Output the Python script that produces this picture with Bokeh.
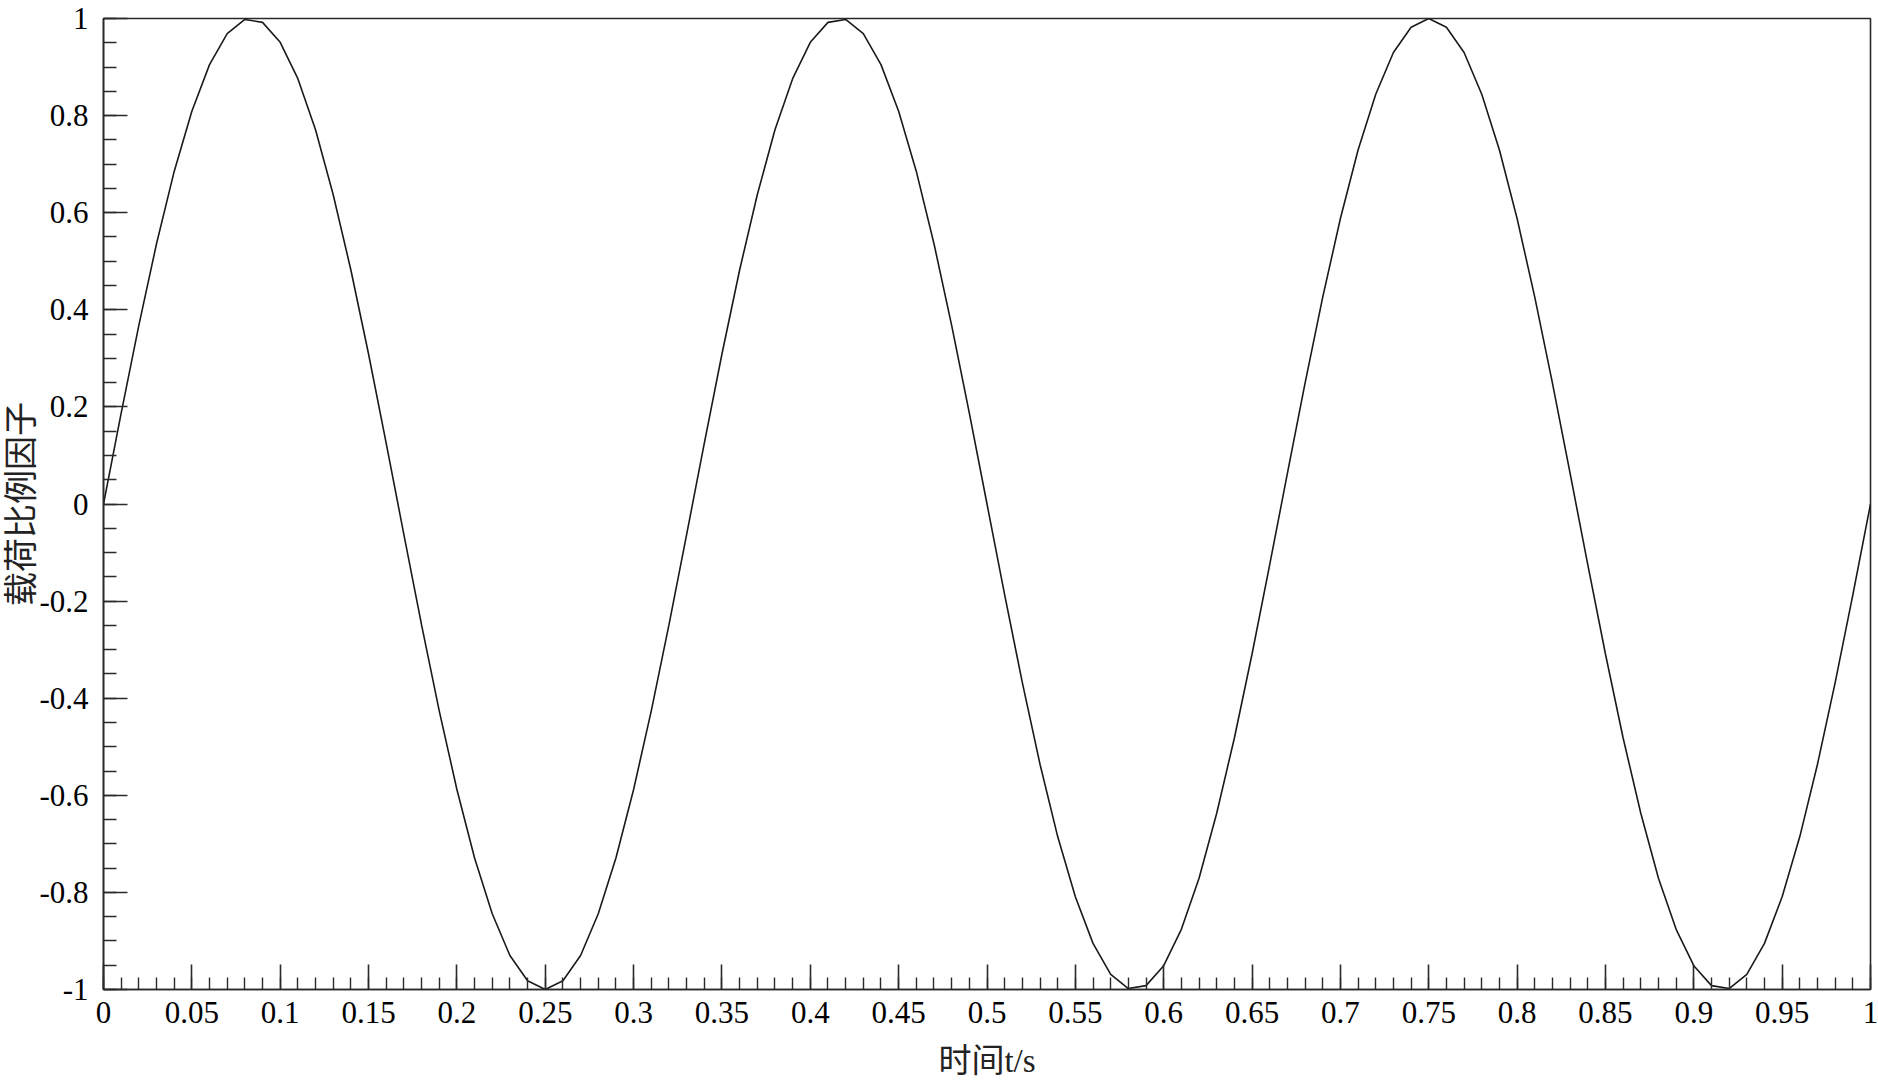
from bokeh.plotting import figure
from bokeh.models import Range1d, SingleIntervalTicker, CustomJSTickFormatter, ColumnDataSource
from bokeh.embed import file_html
from bokeh.resources import INLINE

# sample times (s)
t_values = [0.00, 0.01, 0.02, 0.03, 0.04, 0.05, 0.06, 0.07, 0.08, 0.09,
            0.10, 0.11, 0.12, 0.13, 0.14, 0.15, 0.16, 0.17, 0.18, 0.19,
            0.20, 0.21, 0.22, 0.23, 0.24, 0.25, 0.26, 0.27, 0.28, 0.29,
            0.30, 0.31, 0.32, 0.33, 0.34, 0.35, 0.36, 0.37, 0.38, 0.39,
            0.40, 0.41, 0.42, 0.43, 0.44, 0.45, 0.46, 0.47, 0.48, 0.49,
            0.50, 0.51, 0.52, 0.53, 0.54, 0.55, 0.56, 0.57, 0.58, 0.59,
            0.60, 0.61, 0.62, 0.63, 0.64, 0.65, 0.66, 0.67, 0.68, 0.69,
            0.70, 0.71, 0.72, 0.73, 0.74, 0.75, 0.76, 0.77, 0.78, 0.79,
            0.80, 0.81, 0.82, 0.83, 0.84, 0.85, 0.86, 0.87, 0.88, 0.89,
            0.90, 0.91, 0.92, 0.93, 0.94, 0.95, 0.96, 0.97, 0.98, 0.99,
            1.00]

# load scale factor
load_factor = [0.000, 0.187, 0.368, 0.536, 0.685, 0.809, 0.905, 0.969, 0.998, 0.992,
               0.951, 0.876, 0.771, 0.637, 0.482, 0.309, 0.125, -0.063, -0.249, -0.426,
               -0.588, -0.729, -0.844, -0.930, -0.982, -1.000, -0.982, -0.930, -0.844, -0.729,
               -0.588, -0.426, -0.249, -0.063, 0.125, 0.309, 0.482, 0.637, 0.771, 0.876,
               0.951, 0.992, 0.998, 0.969, 0.905, 0.809, 0.685, 0.536, 0.368, 0.187,
               0.000, -0.187, -0.368, -0.536, -0.685, -0.809, -0.905, -0.969, -0.998, -0.992,
               -0.951, -0.876, -0.771, -0.637, -0.482, -0.309, -0.125, 0.063, 0.249, 0.426,
               0.588, 0.729, 0.844, 0.930, 0.982, 1.000, 0.982, 0.930, 0.844, 0.729,
               0.588, 0.426, 0.249, 0.063, -0.125, -0.309, -0.482, -0.637, -0.771, -0.876,
               -0.951, -0.992, -0.998, -0.969, -0.905, -0.809, -0.685, -0.536, -0.368, -0.187,
               0.000]

x_label = "时间t/s"
y_label = "载荷比例因子"

src = ColumnDataSource(data=dict(t=t_values, f=load_factor))

p = figure(width=1878, height=1081, output_backend="svg", toolbar_location=None,
           x_range=Range1d(0, 1), y_range=Range1d(-1, 1),
           min_border_left=0, min_border_right=8, min_border_top=18, min_border_bottom=0)

p.line("t", "f", source=src, line_color="#1a1a1a", line_width=1.6)

p.grid.visible = False
p.outline_line_color = "#2a2a2a"
p.outline_line_width = 1.6
p.background_fill_color = "white"
p.border_fill_color = "white"

fmt = CustomJSTickFormatter(code="return String(parseFloat(tick.toFixed(2)));")

label_font = "'Liberation Serif', 'Noto Sans CJK SC'"

xa = p.xaxis[0]
xa.ticker = SingleIntervalTicker(interval=0.05, num_minor_ticks=5)
xa.formatter = fmt
xa.major_tick_in = 25
xa.major_tick_out = 0
xa.minor_tick_in = 12
xa.minor_tick_out = 0
xa.axis_label = x_label
ya = p.yaxis[0]
ya.ticker = SingleIntervalTicker(interval=0.2, num_minor_ticks=4)
ya.formatter = fmt
ya.major_tick_in = 24
ya.major_tick_out = 0
ya.minor_tick_in = 13
ya.minor_tick_out = 0
ya.axis_label = y_label

for ax in (xa, ya):
    ax.axis_line_color = "#2a2a2a"
    ax.axis_line_width = 1.6
    ax.major_tick_line_color = "#2a2a2a"
    ax.major_tick_line_width = 1.6
    ax.minor_tick_line_color = "#2a2a2a"
    ax.minor_tick_line_width = 1.4
    ax.major_label_text_font = "Liberation Serif"
    ax.major_label_text_font_size = "31px"
    ax.major_label_text_color = "black"
    ax.axis_label_text_font = label_font
    ax.axis_label_text_font_style = "normal"
    ax.axis_label_text_color = "#222222"

xa.major_label_standoff = 12
xa.axis_label_text_font_size = "33px"
xa.axis_label_standoff = 17
ya.major_label_standoff = 15
ya.axis_label_text_font_size = "34px"
ya.axis_label_standoff = -4

open("out.html", "w").write(file_html(p, INLINE))
